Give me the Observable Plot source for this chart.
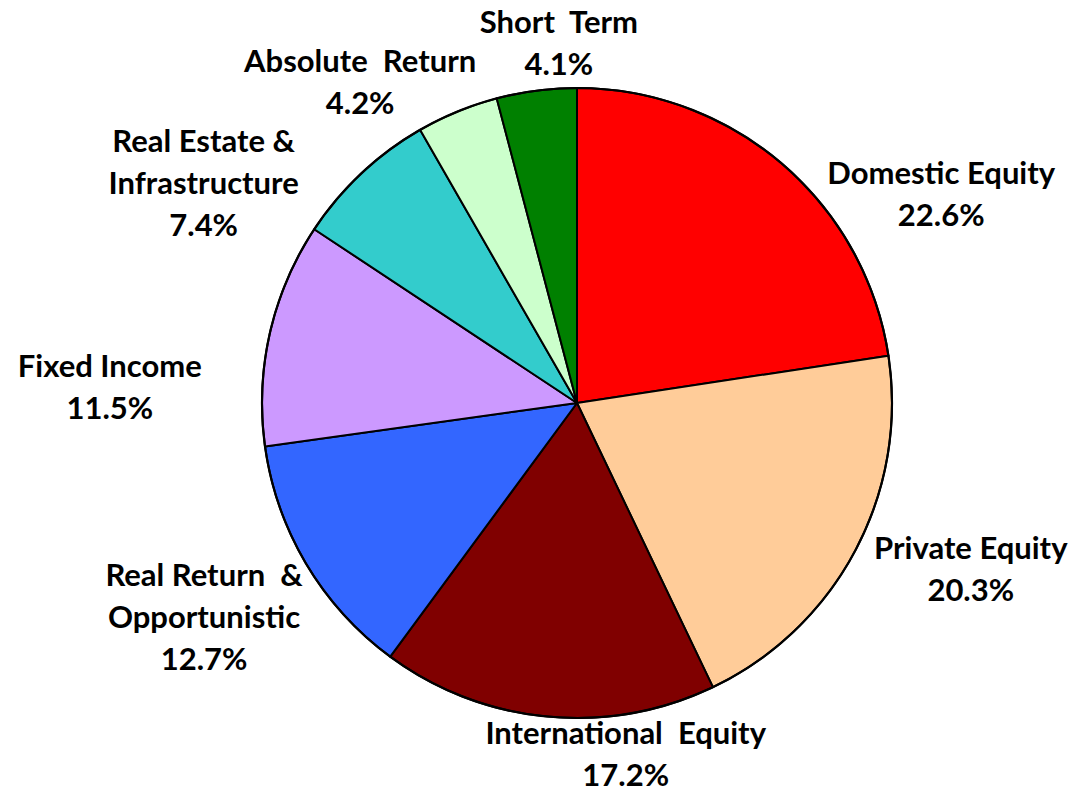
<!DOCTYPE html>
<html>
<head>
<meta charset="utf-8">
<script src="https://cdn.jsdelivr.net/npm/d3@7"></script>
<script src="https://cdn.jsdelivr.net/npm/@observablehq/plot@0.6"></script>
<style>html,body{margin:0;padding:0;background:#fff;}</style>
</head>
<body>
<div id="chart"></div>
<script>
// ---- data ----
const categories = ["Domestic Equity", "Private Equity", "International Equity", "Real Return & Opportunistic", "Fixed Income", "Real Estate & Infrastructure", "Absolute Return", "Short Term"];
const labelText = ["Domestic Equity", "Private Equity", "International  Equity", "Real Return  &\nOpportunistic", "Fixed Income", "Real Estate &\nInfrastructure", "Absolute  Return", "Short  Term"];
const values = [22.6, 20.3, 17.2, 12.7, 11.5, 7.4, 4.2, 4.1];
const colors = ["#FF0000", "#FFCC99", "#800000", "#3366FF", "#CC99FF", "#33CCCC", "#CCFFCC", "#008000"];

// ---- layout (manual label placement, like the original) ----
const W = 1070, H = 792;
const unit = 315;                 // pie radius in px = 1 scale unit
const cxPx = 577, cyPx = 403;     // pie centre in px
const labelA = 458 / unit, labelB = 357 / unit;      // label ellipse radii
const labelCx = -10 / unit, labelCy = 6 / unit;      // label ellipse centre offset
const labelNudge = [14.0, 0.4, -12.7, -6.7, -10.7, -9.4, -4.6, 6.3]; // degrees

const table = categories.map((c, i) => ({category: c, value: values[i], label: labelText[i]}));
const total = d3.sum(values);
let acc = 0;
table.forEach((d, i) => {
  const a0 = acc / total * 360;
  acc += d.value;
  const a1 = acc / total * 360;
  const phi = ((a0 + a1) / 2 + labelNudge[i]) * Math.PI / 180;
  d.lx = labelCx + labelA * Math.sin(phi);
  d.ly = labelCy + labelB * Math.cos(phi);
  d.text = d.label + "\n" + d.value.toFixed(1) + "%";
});

class Pie extends Plot.Mark {
  constructor(data, options = {}) {
    super(data, {
      value: {value: options.value},
      fill: {value: options.fill, scale: "color"}
    }, {}, {ariaLabel: "pie"});
  }
  render(index, scales, channels) {
    const cx = scales.x(0), cy = scales.y(0);
    const r = Math.abs(scales.x(1) - scales.x(0));
    const vals = Array.from(index, i => channels.value[i]);
    const arcs = d3.pie().sort(null).value(d => d)(vals);
    const arc = d3.arc().innerRadius(0).outerRadius(r);
    const g = d3.create("svg:g").attr("transform", `translate(${cx},${cy})`);
    g.selectAll("path").data(arcs).join("path")
      .attr("d", arc)
      .attr("fill", (d, k) => channels.fill[index[k]])
      .attr("stroke", "#000")
      .attr("stroke-width", 2)
      .attr("stroke-linejoin", "round");
    g.append("circle").attr("r", r).attr("fill", "none").attr("stroke", "#000").attr("stroke-width", 2.2);
    return g.node();
  }
}

const chart = Plot.plot({
  width: W,
  height: H,
  margin: 0,
  style: {background: "#fff", overflow: "visible"},
  x: {type: "linear", domain: [-cxPx / unit, (W - cxPx) / unit], axis: null},
  y: {type: "linear", domain: [-(H - cyPx) / unit, cyPx / unit], axis: null},
  color: {domain: categories, range: colors},
  marks: [
    new Pie(table, {value: "value", fill: "category"}),
    Plot.text(table, {
      x: "lx", y: "ly", text: "text",
      textAnchor: "middle", lineAnchor: "middle",
      lineHeight: 1.355,
      fontSize: 31, fontWeight: "bold",
      fontFamily: "Lato, 'Open Sans', sans-serif",
      fill: "#000"
    })
  ]
});
document.getElementById("chart").appendChild(chart);
</script>
</body>
</html>
